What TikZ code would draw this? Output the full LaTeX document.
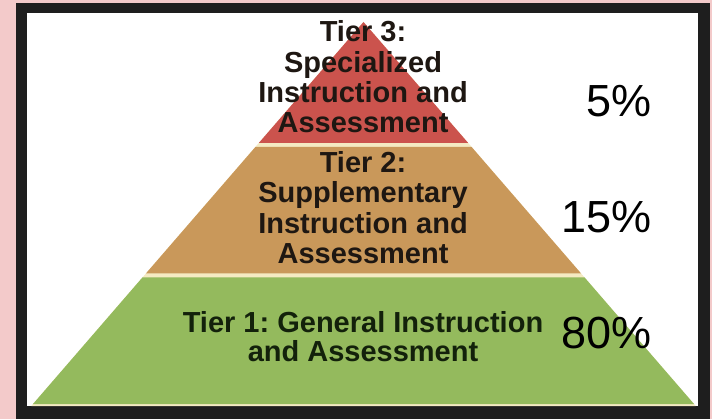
\documentclass[tikz,border=0pt]{standalone}
\usepackage{fontspec}
\setmainfont{Liberation Sans}
\usepackage{tikz}
\usetikzlibrary{positioning}
\frenchspacing

\definecolor{framepink}{HTML}{F3CACA}
\definecolor{frameblack}{HTML}{1E1E1E}
\definecolor{tierred}{HTML}{CB534D}
\definecolor{tiertan}{HTML}{C9985A}
\definecolor{tiergreen}{HTML}{94BA5D}
\definecolor{tiercream}{HTML}{F4EAC2}
\definecolor{inkbrown}{HTML}{1E1712}
\definecolor{inkgreen}{HTML}{13210B}

\begin{document}
\begin{tikzpicture}[x=1pt,y=-1pt,
            label/.style={align=center, inner sep=0pt, text=inkbrown,
                font=\fontsize{29}{30.3}\selectfont\bfseries},
            percent/.style={anchor=base east, inner sep=0pt,
                font=\fontsize{45}{45}\selectfont}]

            % frame
            \fill [framepink] (0,0) rectangle (712,419);
            \fill [frameblack] (16,3) rectangle (710,419);
            \fill [white] (27,13) rectangle (698,406);

            % pyramid
            \coordinate (apex) at (363.5,22);
            \fill [tiercream] (apex) -- (695.7,406) -- (31.3,406) -- cycle;
            \fill [tierred] (apex) -- (468.2,143) -- (258.8,143) -- cycle;
            \fill [tiertan] (255.4,147) -- (471.6,147) -- (581.1,273.5) -- (145.9,273.5) -- cycle;
            \fill [tiergreen] (142.4,277.5) -- (584.6,277.5) -- (694,404) -- (33,404) -- cycle;

            \node [label] (t3) at (363,77) {Tier 3:\\Specialized\\Instruction and\\Assessment};
            \node [label] (t2) at (363,207.5) {Tier 2:\\Supplementary\\Instruction and\\Assessment};
            \node [label,text=inkgreen,font=\fontsize{29}{29}\selectfont\bfseries] (t1) at (363,337)
                {Tier 1: General Instruction\\and Assessment};

            \node [percent] (p5) at (652,117) {5\%};
            \node [percent] (p15) at (652,233) {15\%};
            \node [percent] (p80) at (652,349) {80\%};

        \end{tikzpicture}
\end{document}
